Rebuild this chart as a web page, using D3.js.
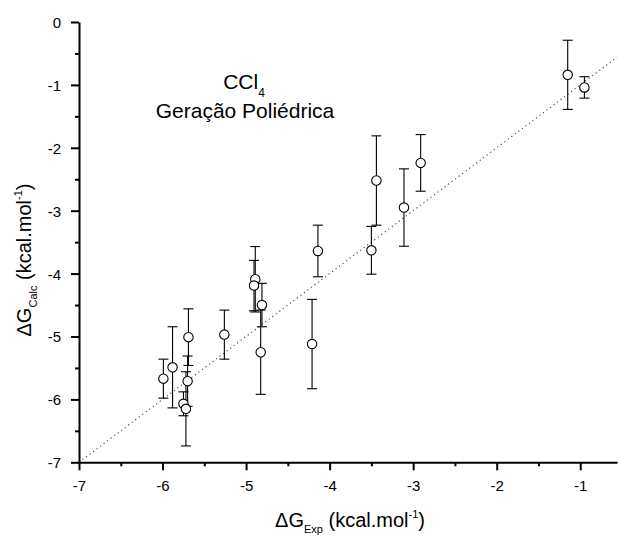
<!DOCTYPE html>
<html><head><meta charset="utf-8">
<script src="https://cdn.jsdelivr.net/npm/d3@7"></script>
<style>
html,body{margin:0;padding:0;background:#fff;}
svg{display:block;font-family:"Liberation Sans",Arial,sans-serif;}
</style></head>
<body><svg id="chart" width="619" height="537"></svg>
<script>
// ---- data ----
const xExp  = [-5.99, -5.88, -5.75, -5.72, -5.70, -5.69, -5.26, -4.89, -4.905, -4.81, -4.825, -4.21, -4.14, -3.50, -3.44, -3.11, -2.91, -1.15, -0.95];
const yCalc = [-5.67, -5.49, -6.07, -6.15, -5.71, -5.01, -4.97, -4.09, -4.19, -4.50, -5.25, -5.12, -3.64, -3.63, -2.52, -2.95, -2.24, -0.84, -1.04];
const yErr  = [0.31, 0.645, 0.19, 0.59, 0.40, 0.45, 0.39, 0.52, 0.40, 0.345, 0.67, 0.71, 0.41, 0.38, 0.71, 0.615, 0.45, 0.55, 0.17];
const xTicks = [-7, -6, -5, -4, -3, -2, -1];
const xTickLabels = ["-7", "-6", "-5", "-4", "-3", "-2", "-1"];
const yTicks = [-7, -6, -5, -4, -3, -2, -1, 0];
const yTickLabels = ["-7", "-6", "-5", "-4", "-3", "-2", "-1", "0"];
const xMinor = [-6.5, -5.5, -4.5, -3.5, -2.5, -1.5];
const yMinor = [-6.5, -5.5, -4.5, -3.5, -2.5, -1.5, -0.5];
const xDomain = [-7, -0.56];
const yDomain = [-7, 0];
const identityLine = [-7, -0.56];

const svg = d3.select("#chart");
const x = d3.scaleLinear().domain(xDomain).range([79, 617]);
const y = d3.scaleLinear().domain(yDomain).range([462.3, 22]);

// identity dotted line
svg.append("line")
  .attr("x1", x(identityLine[0])).attr("y1", y(identityLine[0]))
  .attr("x2", x(identityLine[1])).attr("y2", y(identityLine[1]))
  .attr("stroke", "#444").attr("stroke-width", 1.1)
  .attr("stroke-dasharray", "1.2,3.2");

// axes
const xAxis = d3.axisBottom(x).tickValues(xTicks)
  .tickFormat((d, i) => xTickLabels[i]).tickSize(8).tickSizeOuter(0);
const gx = svg.append("g").attr("transform", "translate(0,462.3)").call(xAxis);
const xMinorAxis = d3.axisBottom(x).tickValues(xMinor).tickFormat("").tickSize(4).tickSizeOuter(0);
svg.append("g").attr("transform", "translate(0,462.3)").call(xMinorAxis).select(".domain").remove();

const yAxis = d3.axisLeft(y).tickValues(yTicks)
  .tickFormat((d, i) => yTickLabels[i]).tickSize(8).tickSizeOuter(0);
const gy = svg.append("g").attr("transform", "translate(79,0)").call(yAxis);
const yMinorAxis = d3.axisLeft(y).tickValues(yMinor).tickFormat("").tickSize(4).tickSizeOuter(0);
svg.append("g").attr("transform", "translate(79,0)").call(yMinorAxis).select(".domain").remove();

svg.selectAll(".domain").attr("stroke", "#000").attr("stroke-width", 2);
svg.selectAll(".tick line").attr("stroke", "#000").attr("stroke-width", 2);
svg.selectAll(".tick text").attr("fill", "#000").attr("font-size", 15)
  .attr("font-family", "Liberation Sans, Arial, sans-serif");
gx.selectAll(".tick text").attr("dy", null).attr("y", 29);
gy.selectAll(".tick text").attr("x", -18).attr("dy", "0.36em");

// error bars and points
const pts = xExp.map((v, i) => ({x: v, y: yCalc[i], e: yErr[i]}));
const capW = 5;
const eb = svg.append("g").attr("stroke", "#000").attr("stroke-width", 1.1);
pts.forEach(p => {
  eb.append("line").attr("x1", x(p.x)).attr("x2", x(p.x))
    .attr("y1", y(p.y + p.e)).attr("y2", y(p.y - p.e));
  eb.append("line").attr("x1", x(p.x) - capW).attr("x2", x(p.x) + capW)
    .attr("y1", y(p.y + p.e)).attr("y2", y(p.y + p.e));
  eb.append("line").attr("x1", x(p.x) - capW).attr("x2", x(p.x) + capW)
    .attr("y1", y(p.y - p.e)).attr("y2", y(p.y - p.e));
});
svg.append("g").selectAll("circle").data(pts).join("circle")
  .attr("cx", d => x(d.x)).attr("cy", d => y(d.y)).attr("r", 4.7)
  .attr("fill", "#fff").attr("stroke", "#000").attr("stroke-width", 1.1);

// annotation
const ann = svg.append("text").attr("x", 244).attr("y", 89)
  .attr("text-anchor", "middle").attr("font-size", 21).attr("fill", "#000");
ann.append("tspan").text("CCl");
ann.append("tspan").attr("font-size", 12).attr("dy", 8).text("4");
svg.append("text").attr("x", 245).attr("y", 117.5)
  .attr("text-anchor", "middle").attr("font-size", 21).attr("fill", "#000")
  .text("Geração Poliédrica");

// x axis title
const xt = svg.append("text").attr("x", 350).attr("y", 527)
  .attr("text-anchor", "middle").attr("font-size", 20).attr("fill", "#000");
xt.append("tspan").text("ΔG");
xt.append("tspan").attr("font-size", 11).attr("dy", 6).text("Exp");
xt.append("tspan").attr("dy", -6).text(" (kcal.mol");
xt.append("tspan").attr("font-size", 11).attr("dy", -9).text("-1");
xt.append("tspan").attr("dy", 9).text(")");

// y axis title
const yt = svg.append("text").attr("transform", "translate(31,260) rotate(-90)")
  .attr("text-anchor", "middle").attr("font-size", 20).attr("fill", "#000");
yt.append("tspan").text("ΔG");
yt.append("tspan").attr("font-size", 11).attr("dy", 6).text("Calc");
yt.append("tspan").attr("dy", -6).text(" (kcal.mol");
yt.append("tspan").attr("font-size", 11).attr("dy", -9).text("-1");
yt.append("tspan").attr("dy", 9).text(")");
</script>
</body></html>
